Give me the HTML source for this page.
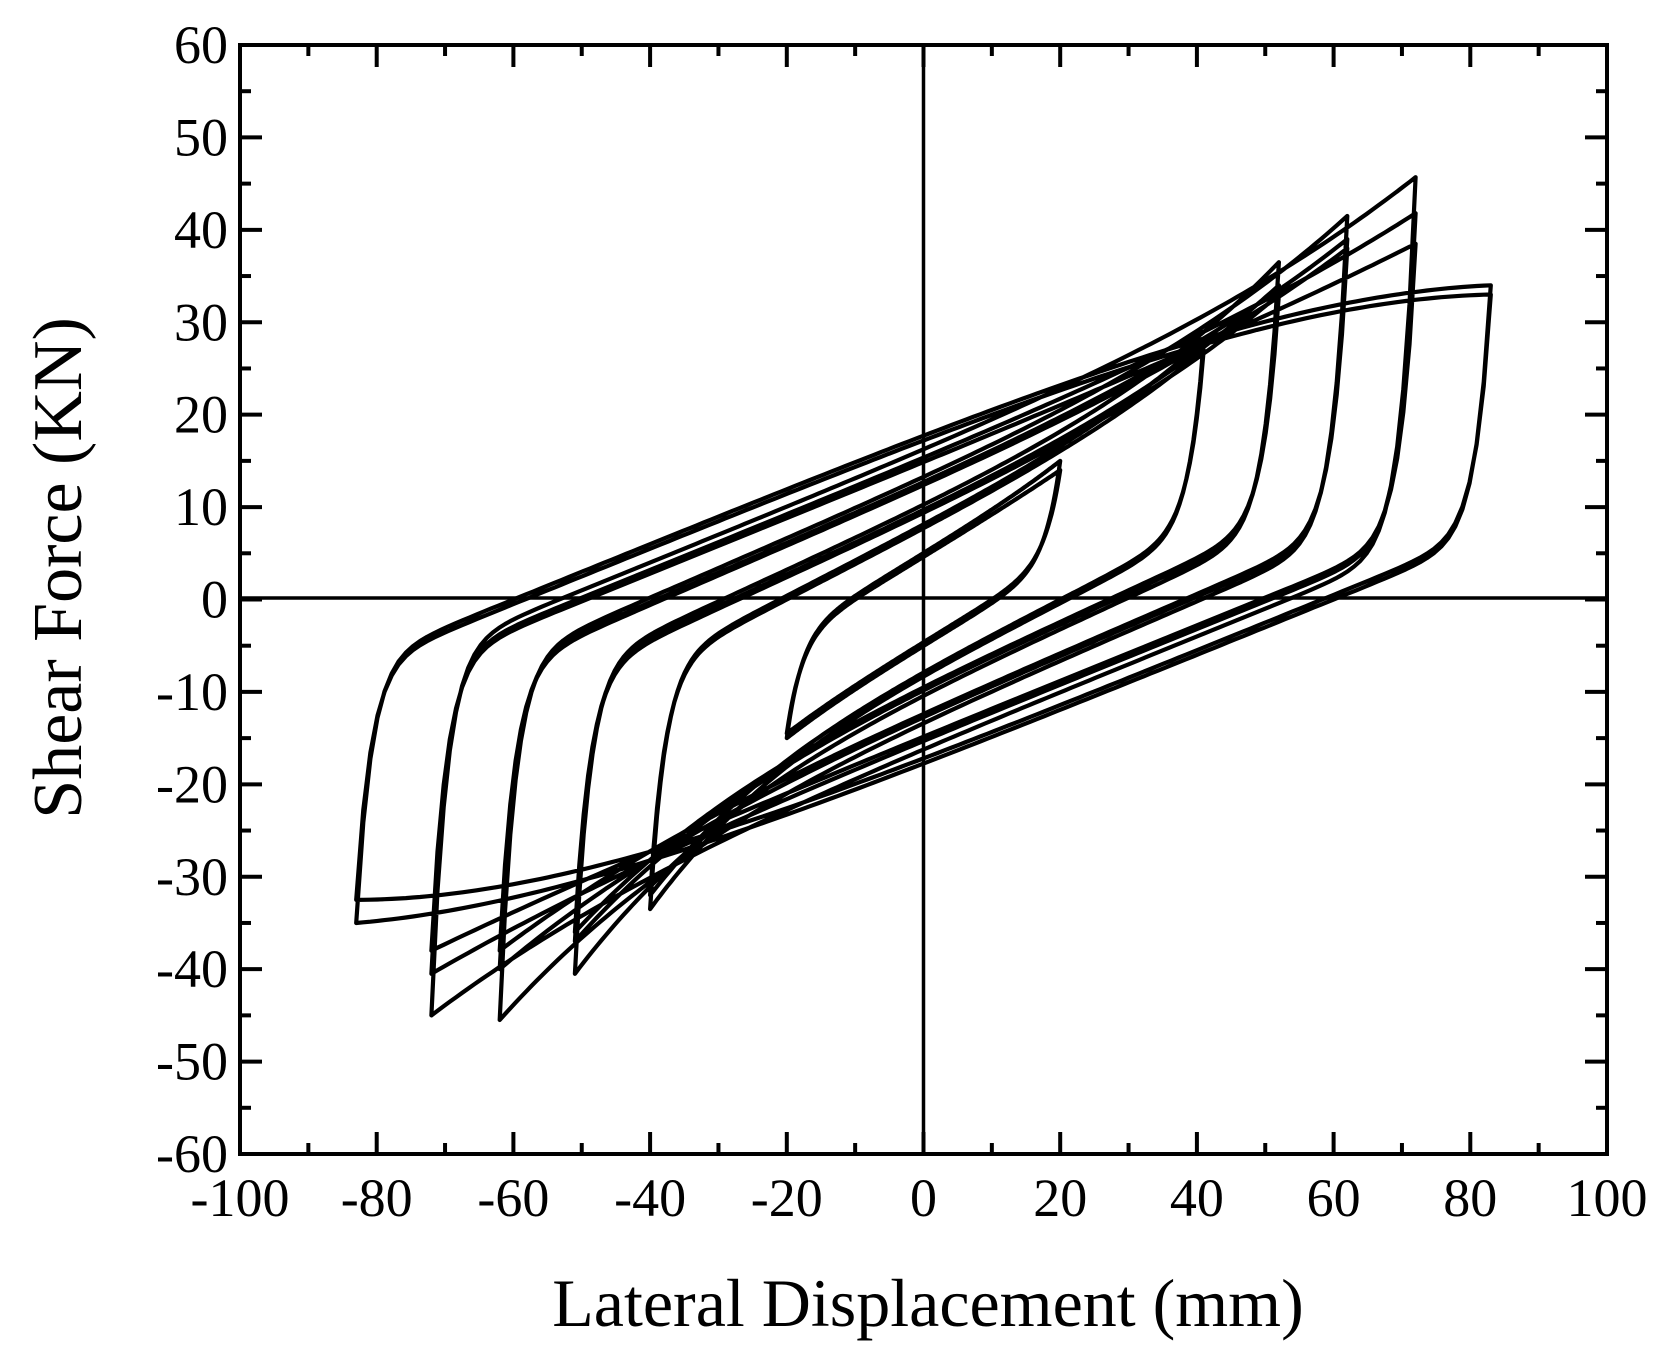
<!DOCTYPE html>
<html><head><meta charset="utf-8"><style>
html,body{margin:0;padding:0;background:#fff}
svg{display:block}
text{font-family:"Liberation Serif",serif;fill:#000}
</style></head><body>
<svg id="s" width="1679" height="1364" viewBox="0 0 1679 1364" xmlns="http://www.w3.org/2000/svg">
<g id="data" fill="none" stroke="#000" stroke-width="4.2" stroke-linejoin="round"></g>
<line x1="923.5" y1="45" x2="923.5" y2="1154" stroke="#000" stroke-width="3.5"/>
<line x1="240" y1="598" x2="1607" y2="598" stroke="#000" stroke-width="3.5"/>
<g id="ticks" stroke="#000" stroke-width="4"></g>
<rect x="240" y="45" width="1367" height="1109" fill="none" stroke="#000" stroke-width="4"/>
<g id="labels" font-size="54"></g>
<text x="928" y="1326" font-size="68" text-anchor="middle">Lateral Displacement (mm)</text>
<text transform="translate(81,568) rotate(-90)" font-size="70" text-anchor="middle">Shear Force (KN)</text>
</svg>
<script>
const L=240,R=1607,T=45,B=1154;
const X=v=>L+(v+100)*(R-L)/200, Y=v=>B-(v+60)*(B-T)/120;
const tk=document.getElementById('ticks'), lb=document.getElementById('labels');
let h='',lh='';
for(let v=-100;v<=100;v+=10){const x=X(v),len=(v%20===0)?22:11;
 h+=`<line x1="${x}" y1="${B}" x2="${x}" y2="${B-len}"/><line x1="${x}" y1="${T}" x2="${x}" y2="${T+len}"/>`;
 if(v%20===0)lh+=`<text x="${x}" y="${B+62}" text-anchor="middle">${v}</text>`;}
for(let v=-60;v<=60;v+=5){const y=Y(v),len=(v%10===0)?22:11;
 h+=`<line x1="${L}" y1="${y}" x2="${L+len}" y2="${y}"/><line x1="${R}" y1="${y}" x2="${R-len}" y2="${y}"/>`;
 if(v%10===0)lh+=`<text x="${L-12}" y="${y+18}" text-anchor="end">${v}</text>`;}
tk.innerHTML=h;lb.innerHTML=lh;
const loops=[
 [20,-20,15,-15,5,0.45],[20,-20,14,-14.5,4.6,0.45],
 [41,-40,28,-33.5,8,0.38],[41,-40,27,-32,7.6,0.38],
 [52,-51,36.5,-40.5,10,0.34],[52,-51,34,-37,9.5,0.34],[52,-51,33,-36,9.2,0.34],
 [62,-62,41.5,-45.5,13,0.32],[62,-62,39,-40,12.5,0.32],[62,-62,38,-38,12.2,0.32],
 [72,-72,45.7,-45,16,0.3],[72,-72,41.8,-40.5,15.2,0.3],[72,-72,38.5,-38,14.8,0.3],
 [83,-83,34,-35,18,0.3],[83,-83,33,-32.5,17.5,0.3]];
let d='';
function branch(x0,x1,F0,Pend,c,k,dir){
 const pts=[],N=160;
 const base=x=>dir*c+k*x;
 const span=x1-x0;
 const e=Pend-base(x1);
 const s0=F0-base(x0);
 for(let i=0;i<=N;i++){
  const t=i/N, x=x0+span*t;
  let f=base(x)+e*Math.pow(t,5)+s0*Math.exp(-Math.abs(x-x0)/2.2);
  pts.push([X(x),Y(f)]);
 }
 return pts;
}
loops.forEach(([ap,an,pp,pn,c,k])=>{
 const up=branch(an,ap,pn,pp,c,k,1);
 const dn=branch(ap,an,pp,pn,c,k,-1);
 const all=up.concat(dn);
 d+='M'+all.map(p=>p[0].toFixed(1)+','+p[1].toFixed(1)).join('L')+'Z ';
});
document.getElementById('data').innerHTML=`<path d="${d}"/>`;
</script>
</body></html>
